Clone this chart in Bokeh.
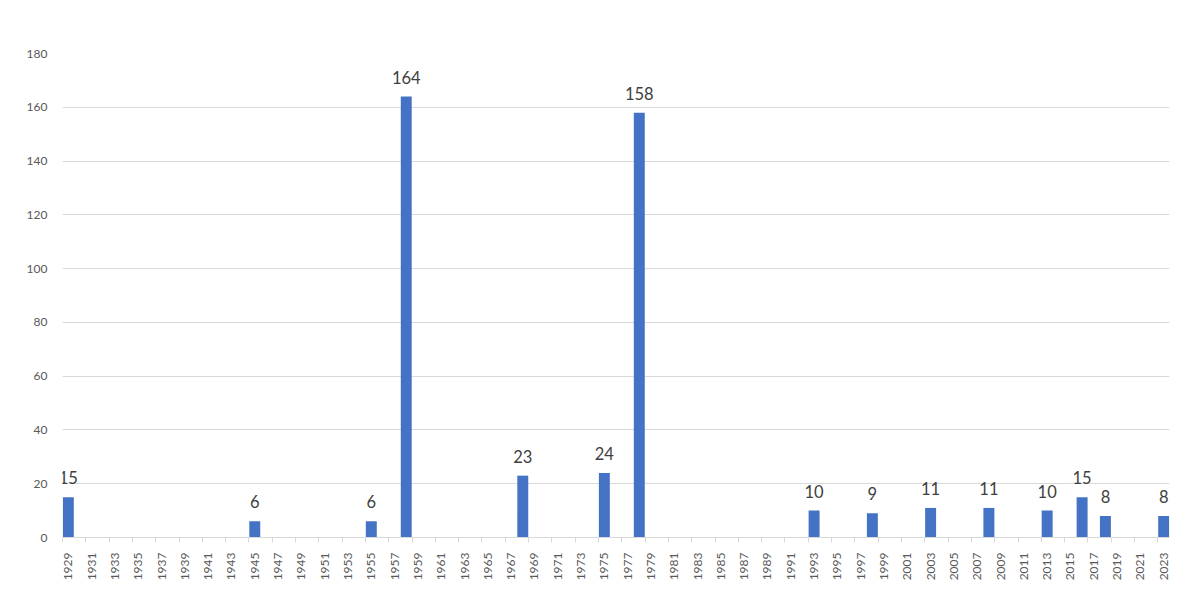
import math
from bokeh.plotting import figure
from bokeh.models import ColumnDataSource, Range1d, FixedTicker, Label
from bokeh.embed import file_html
from bokeh.resources import INLINE

years = [1929, 1945, 1955, 1958, 1968, 1975, 1978, 1993, 1998, 2003, 2008, 2013, 2016, 2018, 2023]
counts = [15, 6, 6, 164, 23, 24, 158, 10, 9, 11, 11, 10, 15, 8, 8]
first_year = 1929
last_year = 2023
x_tick_labels = list(range(first_year, last_year + 1, 2))
y_ticks = [0, 20, 40, 60, 80, 100, 120, 140, 160, 180]

src = ColumnDataSource(data=dict(x=years, top=counts))

p = figure(width=1184, height=597, output_backend="svg", toolbar_location=None,
           x_range=Range1d(first_year - 0.5, last_year + 0.5),
           y_range=Range1d(0, 180),
           min_border_left=62, min_border_right=15, min_border_top=53, min_border_bottom=60)
p.outline_line_color = None
p.background_fill_color = "white"

p.vbar(x="x", top="top", width=0.94, bottom=0, source=src,
       fill_color="#4472C4", line_color=None)

for yr, c in zip(years, counts):
    p.add_layout(Label(x=yr, y=c, text=str(c), text_align="center",
                       text_baseline="bottom", y_offset=13, text_font="Lato",
                       text_font_size="16.5px", text_color="#404040"))

# x axis
boundaries = [y - 0.5 for y in x_tick_labels]
p.xaxis.ticker = FixedTicker(ticks=x_tick_labels, minor_ticks=boundaries)
p.xaxis.major_label_orientation = math.pi / 2
p.xaxis.major_tick_line_color = None
p.xaxis.major_tick_out = 0
p.xaxis.major_tick_in = 0
p.xaxis.minor_tick_line_color = "#d9d9d9"
p.xaxis.minor_tick_out = 5
p.xaxis.minor_tick_in = 0
p.xaxis.axis_line_color = "#d9d9d9"
p.xaxis.major_label_standoff = 10
p.xaxis.major_label_text_font = "Lato"
p.xaxis.major_label_text_font_size = "12px"
p.xaxis.major_label_text_color = "#595959"
p.xgrid.grid_line_color = None

# y axis
p.yaxis.ticker = FixedTicker(ticks=y_ticks)
p.yaxis.axis_line_color = None
p.yaxis.major_tick_line_color = None
p.yaxis.minor_tick_line_color = None
p.yaxis.major_tick_out = 0
p.yaxis.major_label_standoff = 15
p.yaxis.major_label_text_font = "Lato"
p.yaxis.major_label_text_font_size = "12px"
p.yaxis.major_label_text_color = "#595959"
p.ygrid.grid_line_color = "#d9d9d9"
p.ygrid.grid_line_width = 1

open("out.html", "w").write(file_html(p, INLINE))
